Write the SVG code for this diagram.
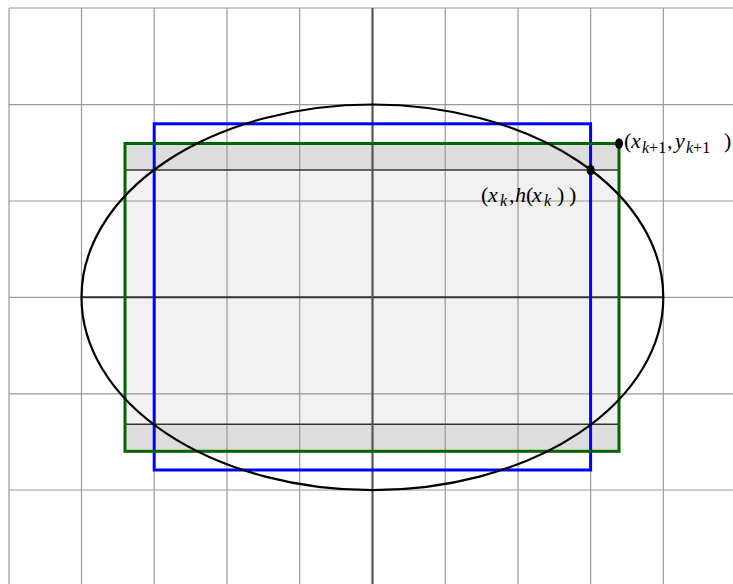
<svg xmlns="http://www.w3.org/2000/svg" width="733" height="584" viewBox="0 0 733 584">
<style>
.grid{stroke:#999999;stroke-width:1.2;fill:none}
.lbl{font-family:"Liberation Serif","DejaVu Serif",serif;font-size:22px;fill:#000}
.it{font-style:italic}
.sub{font-size:16px}
</style>
<rect width="733" height="584" fill="#ffffff"/>
<g id="fills">
<rect x="125" y="143.5" width="494" height="307.8" fill="#dddddd"/>
<rect x="125" y="170" width="494" height="254.3" fill="#f1f1f1"/>
</g>
<g id="grid" class="grid">
<line x1="9" y1="8" x2="9" y2="584"/>
<line x1="81.5" y1="8" x2="81.5" y2="584"/>
<line x1="154.2" y1="8" x2="154.2" y2="584"/>
<line x1="227" y1="8" x2="227" y2="584"/>
<line x1="299.7" y1="8" x2="299.7" y2="584"/>
<line x1="445.2" y1="8" x2="445.2" y2="584"/>
<line x1="518" y1="8" x2="518" y2="584"/>
<line x1="590.6" y1="8" x2="590.6" y2="584"/>
<line x1="663.3" y1="8" x2="663.3" y2="584"/>
<line x1="9" y1="8" x2="733" y2="8"/>
<line x1="9" y1="104.7" x2="733" y2="104.7"/>
<line x1="9" y1="201" x2="733" y2="201"/>
<line x1="9" y1="297.3" x2="733" y2="297.3"/>
<line x1="9" y1="393.8" x2="733" y2="393.8"/>
<line x1="9" y1="490" x2="733" y2="490"/>
</g>
<g id="connectors">
<line x1="125" y1="170" x2="619" y2="170" stroke="#333" stroke-width="1.5"/>
<line x1="125" y1="424.3" x2="619" y2="424.3" stroke="#333" stroke-width="1.5"/>
<line x1="81.5" y1="297.3" x2="663.3" y2="297.3" stroke="#333" stroke-width="2"/>
<line x1="372.5" y1="8" x2="372.5" y2="584" stroke="#555" stroke-width="2.2"/>
</g>
<g id="blue-rect">
<rect x="154.2" y="123.8" width="436.4" height="346.2" fill="none" stroke="#0000ff" stroke-width="3"/>
</g>
<g id="green-rect">
<rect x="125" y="143.5" width="494" height="307.8" fill="none" stroke="#006400" stroke-width="3"/>
</g>
<g id="ellipse">
<ellipse cx="372.4" cy="297.3" rx="290.9" ry="192.8" fill="none" stroke="#000" stroke-width="2.2"/>
</g>
<g id="point-k">
<ellipse cx="590.6" cy="170" rx="4" ry="5.2" fill="#000"/>
<text class="lbl" y="201.5"><tspan x="481">(</tspan><tspan x="488" class="it">x</tspan><tspan x="500" y="205.5" class="sub it">k</tspan><tspan x="509" y="201.5">,</tspan><tspan x="515" class="it">h</tspan><tspan x="526">(</tspan><tspan x="532" class="it">x</tspan><tspan x="544" y="205.5" class="sub it">k</tspan><tspan x="557" y="201.5">)</tspan><tspan x="569">)</tspan></text>
</g>
<g id="point-k1">
<ellipse cx="619" cy="143.5" rx="4" ry="5.2" fill="#000"/>
<text class="lbl" y="148"><tspan x="624">(</tspan><tspan x="631" class="it">x</tspan><tspan x="642" y="152.5" class="sub"><tspan class="it">k</tspan>+1</tspan><tspan x="667" y="148">,</tspan><tspan x="675" class="it">y</tspan><tspan x="686" y="152.5" class="sub"><tspan class="it">k</tspan>+1</tspan><tspan x="724" y="148">)</tspan></text>
</g>
</svg>
